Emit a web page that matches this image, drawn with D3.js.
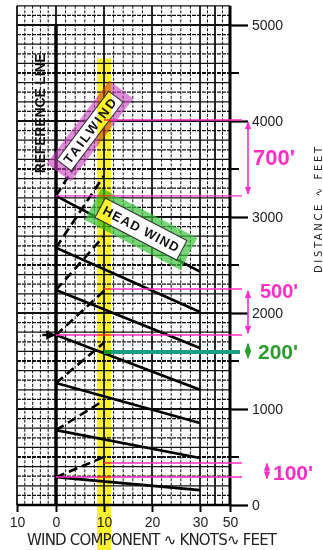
<!DOCTYPE html>
<html><head><meta charset="utf-8">
<script src="https://cdn.jsdelivr.net/npm/d3@7"></script>
<style>body{margin:0;background:#fff}svg{display:block}</style>
</head><body>
<svg id="c" width="323" height="550"></svg>
<script>
// ---- data ----
const xTickValues = [-10, 0, 10, 20, 30, 50];
const xTickLabels = ["10", "0", "10", "20", "30", "50"];
const yTickValues = [0, 1000, 2000, 3000, 4000, 5000];
const yMinorTicks = [500, 1500, 2500, 3500, 4500];
const refFt   = [290, 780, 1270, 1770, 2240, 2680, 3220];   // guide lines at reference line (0 kt)
const head30  = [155, 490, 855, 1200, 1635, 2010, 2430];    // same guide at 30 kt headwind
const tail10  = [500, 1090, 1690, 2230, 2800, 3430, 4010];  // same guide at 10 kt tailwind
const annotLevels = [4010, 3220, 2250, 1771, 292, 437];     // magenta reading lines
const annotStartKt = [10, 0, 10, 0, 0, 10];
const exampleHead = 1594;                                    // teal reading line
const dimTexts = ["700'", "500'", "200'", "100'"];
const dimFrom  = [3990, 2230, 1680, 432];
const dimTo    = [3240, 1790, 1530, 275];
const dimTextFt = [3620, 2225, 1600, 340];
const dimColors = ["#ff2fc4", "#ff2fc4", "#2e9d2e", "#ff2fc4"];

// ---- scales ----
const x = d3.scaleLinear().domain([-10, 0, 30, 50]).range([17, 56, 200, 230]);
const y = d3.scaleLinear().domain([0, 5000]).range([505, 25]);
const svg = d3.select("#c");
const font = "'Liberation Sans', Arial, sans-serif";
const defs = svg.append("defs");

// ---- grid ----
const g = svg.append("g");
g.selectAll(".h").data(d3.range(0, 5300, 100)).join("line")
  .attr("x1", x(-10)).attr("x2", x(50))
  .attr("y1", d => y(d)).attr("y2", d => y(d))
  .attr("stroke", "#111").attr("stroke-width", d => d % 500 === 0 ? 2 : 1.2)
  .attr("stroke-dasharray", d => d % 200 === 100 ? "4,1" : null);
const vGrid = d3.range(-10, 31, 2).concat([35, 40, 45]);
g.selectAll(".v").data(vGrid).join("line")
  .attr("x1", d => x(d)).attr("x2", d => x(d))
  .attr("y1", y(5200)).attr("y2", y(0))
  .attr("stroke", "#111").attr("stroke-width", d => d % 10 === 0 ? 1.8 : 1)
  .attr("stroke-dasharray", d => d % 10 === 0 ? null : "3,1.5");

// ---- axes ----
svg.append("line").attr("x1", x(50)).attr("x2", x(50)).attr("y1", y(5200)).attr("y2", y(0))
  .attr("stroke", "#000").attr("stroke-width", 3);
svg.append("line").attr("x1", x(-10)).attr("x2", x(50)).attr("y1", y(0)).attr("y2", y(0))
  .attr("stroke", "#000").attr("stroke-width", 2.5);
const yAxis = d3.axisRight(y).tickValues(yTickValues).tickSize(18).tickPadding(4).tickFormat(d3.format("d"));
const ya = svg.append("g").attr("transform", `translate(${x(50)},0)`).call(yAxis);
ya.select(".domain").remove();
ya.selectAll(".tick line").attr("stroke", "#000").attr("stroke-width", 2.2);
ya.selectAll(".tick text").attr("font-family", font).attr("font-size", 14).attr("fill", "#222");
svg.append("g").selectAll("line").data(yMinorTicks).join("line")
  .attr("x1", x(50)).attr("x2", x(50) + 9).attr("y1", d => y(d)).attr("y2", d => y(d))
  .attr("stroke", "#000").attr("stroke-width", 2);

const xAxis = d3.axisBottom(x).tickValues(xTickValues).tickSize(7).tickPadding(5)
  .tickFormat((d, i) => xTickLabels[i]);
const xa = svg.append("g").attr("transform", `translate(0,${y(0)})`).call(xAxis);
xa.select(".domain").remove();
xa.selectAll(".tick line").attr("stroke", "#000").attr("stroke-width", 2);
xa.selectAll(".tick text").attr("font-family", font).attr("font-size", 14).attr("fill", "#222");

svg.append("text").attr("x", 27).attr("y", 545).attr("textLength", 250)
  .attr("font-family", "'DejaVu Sans', " + font).attr("font-size", 15).attr("fill", "#222")
  .text("WIND COMPONENT \u223F KNOTS\u223F FEET");
svg.append("text").attr("transform", "translate(322,210) rotate(-90)")
  .attr("text-anchor", "middle").attr("textLength", 126)
  .attr("font-family", "'DejaVu Sans', " + font).attr("font-size", 10).attr("fill", "#222")
  .text("DISTANCE \u223F FEET");

// ---- reference line ----
svg.append("line").attr("x1", x(0)).attr("x2", x(0)).attr("y1", y(5000)).attr("y2", y(0))
  .attr("stroke", "#000").attr("stroke-width", 3.5);
svg.append("text").attr("transform", `translate(${x(-4.2)},${y(4080)}) rotate(-90)`)
  .attr("text-anchor", "middle").attr("dominant-baseline", "central").attr("textLength", 120)
  .attr("font-family", font).attr("font-weight", "bold").attr("font-size", 14).attr("fill", "#111")
  .text("REFERENCE LINE");

// ---- guide lines ----
const line = d3.line().x(d => x(d[0])).y(d => y(d[1]));
svg.append("g").selectAll("path").data(refFt.map((r, i) => [[0, r], [30, head30[i]]])).join("path")
  .attr("d", line).attr("stroke", "#000").attr("stroke-width", 2.6).attr("fill", "none");
svg.append("g").selectAll("path").data(refFt.map((r, i) => [[0, r], [10, tail10[i]]])).join("path")
  .attr("d", line).attr("stroke", "#000").attr("stroke-width", 2.6).attr("fill", "none")
  .attr("stroke-dasharray", "9,5");

// example arrow into reference line
defs.append("marker").attr("id", "ah").attr("viewBox", "0 0 10 10")
  .attr("refX", 9).attr("refY", 5).attr("markerWidth", 4).attr("markerHeight", 4).attr("orient", "auto")
  .append("path").attr("d", "M0,0L10,5L0,10z").attr("fill", "#000");
svg.append("path").attr("d", line([[-3.5, 1771], [-0.3, 1771]])).attr("stroke", "#000")
  .attr("stroke-width", 2.4).attr("marker-end", "url(#ah)");

// ---- box labels ----
function boxLabel(cx, cy, ang, w, h, iw, ih, col, op, txt, fs) {
  const gg = svg.append("g").attr("transform", `translate(${cx},${cy}) rotate(${ang})`);
  gg.append("rect").attr("x", -w / 2).attr("y", -h / 2).attr("width", w).attr("height", h)
    .attr("fill", col).attr("opacity", op);
  gg.append("rect").attr("x", -iw / 2).attr("y", -ih / 2).attr("width", iw).attr("height", ih)
    .attr("fill", "#fff").attr("stroke", "#333").attr("stroke-width", 1);
  gg.append("text").attr("text-anchor", "middle").attr("dominant-baseline", "central")
    .attr("font-family", font).attr("font-weight", "bold").attr("font-size", fs).attr("fill", "#111")
    .attr("textLength", iw - 8).text(txt);
}
boxLabel(90, 131, -53, 104, 30, 86, 18, "#c63dbd", 0.6, "TAILWIND", 13);
boxLabel(141, 229, 27.5, 108, 36, 92, 22, "#3ac23a", 0.7, "HEAD WIND", 13);

// ---- annotations ----
svg.append("g").selectAll("line").data(annotLevels).join("line")
  .attr("x1", (d, i) => x(annotStartKt[i])).attr("x2", x(50) + 12)
  .attr("y1", d => y(d)).attr("y2", d => y(d))
  .attr("stroke", "#ff2fc4").attr("stroke-width", 1.4);
svg.append("line").attr("x1", x(10)).attr("x2", x(50) + 10)
  .attr("y1", y(exampleHead)).attr("y2", y(exampleHead))
  .attr("stroke", "#1a9e86").attr("stroke-width", 4);

// yellow highlight (multiply)
svg.append("rect").attr("x", x(10) - 7).attr("y", y(4650)).attr("width", 14).attr("height", 550 - y(4650))
  .attr("fill", "#fbf22c").style("mix-blend-mode", "multiply");

// dimension arrows + texts
dimColors.forEach((c, k) => {
  defs.append("marker").attr("id", "m" + k).attr("viewBox", "0 0 10 10").attr("refX", 9).attr("refY", 5)
    .attr("markerWidth", 5).attr("markerHeight", 5).attr("orient", "auto-start-reverse")
    .append("path").attr("d", "M0,1L10,5L0,9z").attr("fill", c);
});
const dimX = [248, 248, 248, 267];
const dimTextX = [253, 260, 258, 273];
const dimFont = [22, 20, 21, 21];
dimTexts.forEach((t, i) => {
  svg.append("line").attr("x1", dimX[i]).attr("x2", dimX[i])
    .attr("y1", y(dimFrom[i])).attr("y2", y(dimTo[i]))
    .attr("stroke", dimColors[i]).attr("stroke-width", 1.6)
    .attr("marker-start", `url(#m${i})`).attr("marker-end", `url(#m${i})`);
  svg.append("text").attr("x", dimTextX[i]).attr("y", y(dimTextFt[i]))
    .attr("dominant-baseline", "central")
    .attr("font-family", font).attr("font-weight", "bold").attr("font-size", dimFont[i])
    .attr("fill", dimColors[i]).text(t);
});
</script>
</body></html>
